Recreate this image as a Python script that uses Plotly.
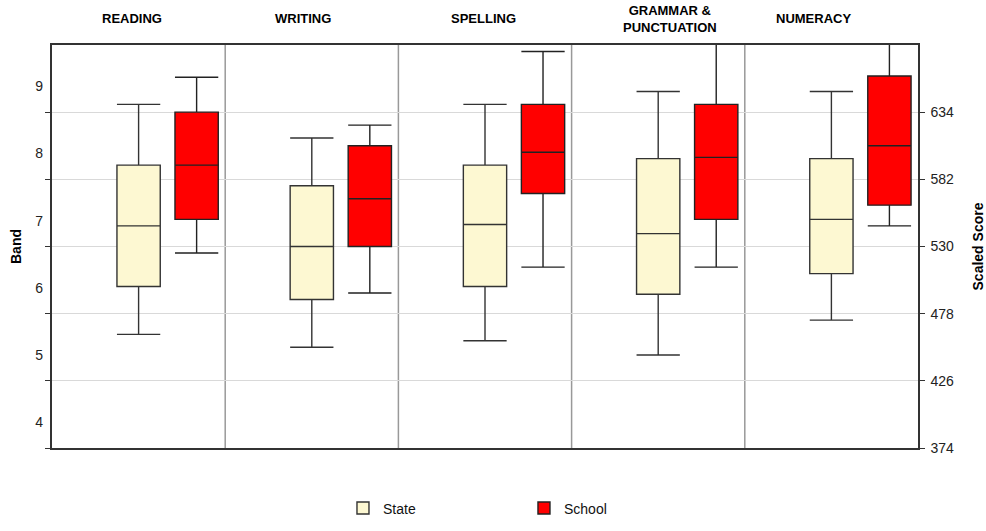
"""
Band / scaled score box plots, state vs school
"""

import plotly.graph_objects as go

subjects = ['READING', 'WRITING', 'SPELLING', 'GRAMMAR &<br>PUNCTUATION', 'NUMERACY']

# scaled score summaries
state_low = [462, 452, 457, 446, 473]
state_q1 = [499, 489, 499, 493, 509]
state_med = [546, 530, 547, 540, 551]
state_q3 = [593, 577, 593, 598, 598]
state_high = [640, 614, 640, 650, 650]

school_low = [525, 494, 514, 514, 546]
school_q1 = [551, 530, 571, 551, 562]
school_med = [593, 567, 603, 599, 608]
school_q3 = [634, 608, 640, 640, 662]
school_high = [661, 624, 681, 700, 700]

score_ticks = [374, 426, 478, 530, 582, 634]
band_labels = ['4', '5', '6', '7', '8', '9']

y_lo, y_hi = 374, 686
font = 'Liberation Sans, Arial, sans-serif'
heading_shift = [-7, -9, -2, 12, -18]   # headings are not quite centred in the original

xs = list(range(len(subjects)))
fig = go.Figure()

fig.add_trace(go.Box(
    name='State', x=xs, q1=state_q1, median=state_med, q3=state_q3,
    lowerfence=state_low, upperfence=state_high,
    fillcolor='#fdf8d2', line=dict(color='#333333', width=1.4),
    width=0.25, whiskerwidth=1, hoverinfo='skip'))

fig.add_trace(go.Box(
    name='School', x=[x + 0.335 for x in xs], q1=school_q1, median=school_med,
    q3=school_q3, lowerfence=school_low, upperfence=school_high,
    fillcolor='#ff0000', line=dict(color='#222222', width=1.4),
    width=0.25, whiskerwidth=1, hoverinfo='skip'))

# invisible trace to host the right axis
fig.add_trace(go.Scatter(x=[0], y=[y_lo], yaxis='y2', mode='markers',
                         marker=dict(opacity=0), showlegend=False, hoverinfo='skip'))
# invisible trace to host band labels
fig.add_trace(go.Scatter(x=[0], y=[y_lo], yaxis='y3', mode='markers',
                         marker=dict(opacity=0), showlegend=False, hoverinfo='skip'))

# column separators
for i in xs[:-1]:
    fig.add_shape(type='line', xref='x', yref='paper', x0=i + 0.5, x1=i + 0.5,
                  y0=0, y1=1, line=dict(color='#999999', width=1.5), layer='below')

# subject headings
for i, s in enumerate(subjects):
    fig.add_annotation(x=i, y=1.065, xref='x', yref='paper', text='<b>%s</b>' % s,
                       showarrow=False, yanchor='middle', xshift=heading_shift[i],
                       font=dict(family=font, size=13, color='#000000'))

fig.update_layout(
    width=986, height=531,
    margin=dict(l=52, r=68, t=45, b=83, autoexpand=False),
    paper_bgcolor='white', plot_bgcolor='white',
    font=dict(family=font, size=14, color='#222222'),
    boxmode='overlay',
    xaxis=dict(range=[-0.5, 4.5], showticklabels=False, showgrid=False,
               zeroline=False, showline=True, linecolor='#333333',
               linewidth=1.5, mirror=True, ticks='', automargin=False),
    yaxis=dict(range=[y_lo, y_hi], tickvals=score_ticks,
               ticktext=[''] * len(score_ticks), ticks='outside', ticklen=5,
               tickcolor='#333333', showgrid=True, gridcolor='#d9d9d9',
               gridwidth=1.3, zeroline=False, showline=True,
               linecolor='#333333', linewidth=1.5, automargin=False),
    yaxis2=dict(range=[y_lo, y_hi], overlaying='y', side='right',
                tickvals=score_ticks, ticks='outside', ticklen=5,
                ticklabelstandoff=3,
                tickcolor='#333333', showgrid=False, zeroline=False,
                showline=True, linecolor='#333333', linewidth=1.5,
                automargin=False,
                title=dict(text='<b>Scaled Score</b>', standoff=20,
                           font=dict(size=14, color='#000000'))),
    yaxis3=dict(range=[y_lo, y_hi], overlaying='y', side='left',
                tickvals=[y_lo + 20 + 52 * i for i in range(len(band_labels))],
                ticktext=band_labels, ticks='', ticklabelstandoff=8,
                showgrid=False, zeroline=False, showline=False,
                automargin=False,
                title=dict(text='<b>Band</b>', standoff=10,
                           font=dict(size=14, color='#000000'))),
    legend=dict(orientation='h', x=0.336, xanchor='left', y=-0.15,
                yanchor='middle', entrywidth=136, entrywidthmode='pixels',
                font=dict(size=14, color='#111111')),
)

# drop the default page margin so the figure sits at the window corner
fig.write_html('out.html', config={'displayModeBar': False},
               post_script="document.body.style.margin='0';")
